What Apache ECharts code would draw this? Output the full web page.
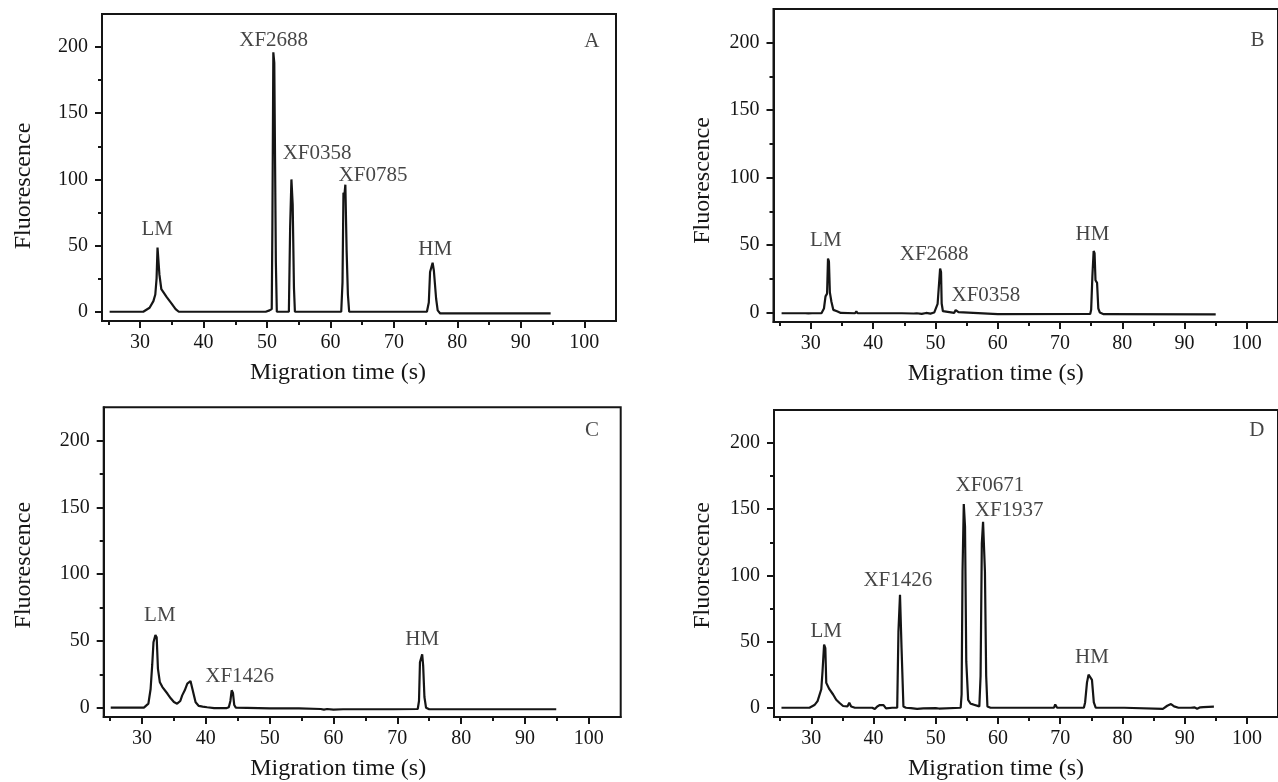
<!DOCTYPE html>
<html>
<head>
<meta charset="utf-8">
<script src="https://cdn.jsdelivr.net/npm/echarts@6/dist/echarts.min.js"></script>
<style>
html,body{margin:0;padding:0;background:#fff;}
#chart{width:1278px;height:782px;}
</style>
</head>
<body>
<div id="chart"></div>
<script>
// ---------- DATA ----------
const xTickLabels = [30, 40, 50, 60, 70, 80, 90, 100];
const xMinorTicks = [25, 35, 45, 55, 65, 75, 85, 95];
const yTickLabels = [0, 50, 100, 150, 200];
const yMinorTicks = [25, 75, 125, 175];

// Panel A
const timeA = [25.2, 30.5, 31.5, 32.1, 32.4, 32.6, 32.75, 32.9, 33.05, 33.2, 33.35, 34.2, 35.0, 35.6, 36.1, 40, 45, 49.8, 50.4, 50.75, 50.85, 51.0, 51.15, 51.4, 51.55, 51.8, 52.3, 53.45, 53.55, 53.65, 53.85, 54.05, 54.25, 54.4, 55, 61.7, 61.9, 62.05, 62.2, 62.35, 62.55, 62.75, 62.95, 70, 75.2, 75.5, 75.7, 75.9, 76.1, 76.3, 76.5, 76.65, 76.9, 77.3, 85, 94.7];
const fluorA = [0, 0, 3, 8, 13, 25, 48.5, 48, 28, 27, 17, 11, 6, 2, 0, 0, 0, 0, 1, 2, 64, 196, 188, 37, 0, -1, 0, 0, -1, 64, 100, 81, 18, 0, 0, 0, 22, 90, 88, 96, 46, 13, 0, 0, 0, 7, 30, 30, 37, 31, 32, 10, 1, -1.3, -1.3, -1.3];

// Panel B
const timeB = [25.3, 28.5, 28.8, 29.1, 29.6, 29.9, 30.2, 31.7, 32.1, 32.35, 32.6, 32.75, 32.9, 33.05, 33.3, 33.6, 34.2, 34.8, 37.1, 37.3, 37.5, 44, 44.3, 44.6, 46.5, 46.8, 47.0, 47.8, 48.5, 49.2, 49.8, 50.1, 50.35, 50.6, 50.75, 50.9, 51.0, 51.2, 51.4, 53.0, 53.25, 53.45, 53.7, 54.0, 60, 74.85, 75.0, 75.2, 75.4, 75.55, 75.7, 75.95, 76.15, 76.4, 77, 95];
const fluorB = [-0.5, -0.5, -1, -0.5, -0.6, -1.2, -0.5, -0.5, 3, 12, 14, 40, 38, 15, 8, 2, 1, -0.3, -0.5, 1, -0.5, -0.5, -1.2, -0.5, -0.7, -1.5, -0.5, -1, -0.3, -0.8, 0, 0, 6.5, 6.7, 32.6, 30, 6.7, 1, -0.3, -0.3, 1.8, 2.2, 0.3, -0.8, -1.2, -1, 2, 27, 45.6, 44, 24, 22, 3, 0, -1.2, -1.3];

// Panel C
const timeC = [25.1, 30.3, 31.0, 31.35, 31.6, 31.8, 31.95, 32.1, 32.3, 32.5, 32.8, 33.2, 33.5, 34.0, 34.5, 35.0, 35.5, 36.0, 36.3, 36.7, 37.1, 37.6, 37.9, 38.2, 38.4, 38.9, 39.5, 40.2, 40.5, 41.3, 41.6, 42.2, 42.5, 43.2, 43.6, 43.85, 44.05, 44.25, 44.45, 44.7, 50, 54, 54.3, 54.6, 58, 58.5, 59, 60, 61.5, 64.5, 64.7, 65, 69, 69.2, 69.4, 73.2, 73.4, 73.55, 73.75, 73.9, 74.05, 74.25, 74.5, 75, 94.9];
const fluorC = [0, 0, 3, 14, 32, 49, 50, 54.4, 52.7, 29, 19, 15.4, 16.6, 10.4, 7, 4.2, 3, 5, 9.2, 13, 18, 19.9, 14, 8, 4, 1.3, 0.8, 0.3, 0.8, -0.3, 0.6, -0.3, 0.5, -0.4, 0.3, 5, 13, 11, 2, 0, -0.5, -0.6, -1.3, -0.6, -1, -1.5, -1, -1.5, -1.2, -1.2, -1.8, -1.2, -1.2, -0.5, -1.2, -1, 5, 34, 34, 40, 31.5, 8, 0, -1.2, -1.2];

// Panel D
const timeD = [25.2, 29.7, 30.5, 31.0, 31.6, 31.8, 32.05, 32.25, 32.4, 32.9, 33.5, 34.0, 34.5, 35.1, 35.8, 36.1, 36.4, 37, 39.8, 40.2, 40.6, 41.0, 41.3, 41.6, 42, 43.0, 43.8, 44.0, 44.25, 44.5, 44.8, 45.2, 46, 47, 48, 50, 50.5, 54.0, 54.15, 54.3, 54.5, 54.7, 54.9, 55.2, 55.6, 56.0, 57.0, 57.2, 57.4, 57.6, 57.9, 58.1, 58.3, 58.8, 65, 69, 69.2, 69.5, 73.8, 74.0, 74.3, 74.55, 74.8, 75.1, 75.4, 75.7, 80.3, 80.5, 86.5, 87.2, 87.8, 88.3, 89, 91, 91.3, 91.6, 92, 92.5, 93, 94.7];
const fluorD = [0, 0, 2, 5, 14, 27.6, 47.7, 45, 18.8, 14, 10, 6, 3.8, 1.3, 1, 3.8, 1, 0, 0, -1, 1, 2, 0.5, 2, -0.5, 0, 0, 57.7, 85.3, 45, 1, 0, -0.3, -0.8, -0.5, -0.3, -0.6, 0, 10, 103, 154, 137, 35, 6, 3, 2.5, 1, 24, 124, 140.5, 103, 24, 1, 0, 0, 0, 2.5, 0, 0, 4, 19, 25, 26, 21, 4, 0, 0, -0.8, -0.8, 1.5, 2.8, 1, 0, 0, -1, 0.3, -0.8, 0.3, 0.5, 0.8];

// Peak annotations: [text, time, fluorescence]
const notesA = [['LM', 32.7, 62], ['XF2688', 51.05, 205], ['XF0358', 57.9, 119.5], ['XF0785', 66.7, 103], ['HM', 76.5, 46.7], ['A', 101.2, 204]];
const notesB = [['LM', 32.4, 53.6], ['XF2688', 49.8, 43.2], ['XF0358', 58.1, 12.8], ['HM', 75.2, 57.8], ['B', 101.7, 201.7]];
const notesC = [['LM', 32.8, 68.8], ['XF1426', 45.3, 23.6], ['HM', 73.9, 51.4], ['C', 100.5, 207.5]];
const notesD = [['LM', 32.4, 57.7], ['XF1426', 43.9, 96], ['XF0671', 58.7, 167.6], ['XF1937', 61.8, 148.8], ['HM', 75.1, 37.6], ['D', 101.6, 209.5]];

const xTitle = 'Migration time (s)';
const yTitle = 'Fluorescence';

// ---------- LAYOUT ----------
const FONT = '"Liberation Serif", "DejaVu Serif", serif';
const INK = '#151515';
const panels = [
  {time: timeA, fl: fluorA, notes: notesA, grid: {left: 102, top: 14, width: 514, height: 307},
   xPad: [0, 42, 0, 0], yGap: 66, yPad: [0, 37, 0, 0]},
  {time: timeB, fl: fluorB, notes: notesB, grid: {left: 773.5, top: 9, width: 516, height: 313},
   xPad: [0, 60, 0, 0], yGap: 59, yPad: [0, 30, 0, 0]},
  {time: timeC, fl: fluorC, notes: notesC, grid: {left: 103.7, top: 407.3, width: 517, height: 311},
   xPad: [0, 48, 0, 0], yGap: 68, yPad: [0, 6, 0, 0]},
  {time: timeD, fl: fluorD, notes: notesD, grid: {left: 774, top: 410, width: 515, height: 307.3},
   xPad: [0, 60, 0, 0], yGap: 59, yPad: [0, 4, 0, 0]}
];

const grids = [], xAxes = [], yAxes = [], series = [];
panels.forEach((p, i) => {
  grids.push(Object.assign({show: true, borderColor: INK, borderWidth: 2, backgroundColor: 'transparent'}, p.grid));
  xAxes.push({
    type: 'value', gridIndex: i, min: 24, max: 105, position: 'bottom',
    axisLine: {show: true, onZero: false, lineStyle: {color: INK, width: 2}},
    axisTick: {show: true, inside: false, length: 7, customValues: xTickLabels, lineStyle: {color: INK, width: 2}},
    axisLabel: {show: true, customValues: xTickLabels, margin: 12, fontFamily: FONT, fontSize: 20, color: INK},
    splitLine: {show: false},
    name: xTitle, nameLocation: 'middle', nameGap: 40,
    nameTextStyle: {fontFamily: FONT, fontSize: 24, color: INK, padding: p.xPad}
  });
  xAxes.push({
    type: 'value', gridIndex: i, min: 24, max: 105, position: 'bottom',
    axisLine: {show: false, onZero: false},
    axisTick: {show: true, inside: false, length: 4, customValues: xMinorTicks, lineStyle: {color: INK, width: 2}},
    axisLabel: {show: false}, splitLine: {show: false}
  });
  yAxes.push({
    type: 'value', gridIndex: i, min: -7, max: 225, position: 'left',
    axisLine: {show: true, onZero: false, lineStyle: {color: INK, width: 2}},
    axisTick: {show: true, inside: false, length: 7, customValues: yTickLabels, lineStyle: {color: INK, width: 2}},
    axisLabel: {show: true, customValues: yTickLabels, margin: 14, fontFamily: FONT, fontSize: 20, color: INK},
    splitLine: {show: false},
    name: yTitle, nameLocation: 'middle', nameGap: p.yGap,
    nameTextStyle: {fontFamily: FONT, fontSize: 24, color: INK, padding: p.yPad}
  });
  yAxes.push({
    type: 'value', gridIndex: i, min: -7, max: 225, position: 'left',
    axisLine: {show: false, onZero: false},
    axisTick: {show: true, inside: false, length: 4, customValues: yMinorTicks, lineStyle: {color: INK, width: 2}},
    axisLabel: {show: false}, splitLine: {show: false}
  });
  series.push({
    type: 'line', xAxisIndex: 2 * i, yAxisIndex: 2 * i,
    data: p.time.map((t, k) => [t, p.fl[k]]),
    showSymbol: false, symbol: 'none', smooth: false,
    lineStyle: {color: INK, width: 2.2}, silent: true, animation: false
  });
  series.push({
    type: 'scatter', xAxisIndex: 2 * i, yAxisIndex: 2 * i,
    symbolSize: 1, itemStyle: {color: 'rgba(0,0,0,0)'},
    data: p.notes.map(n => ({name: n[0], value: [n[1], n[2]]})),
    label: {show: true, position: 'inside', formatter: '{b}', fontFamily: FONT, fontSize: 21, color: INK},
    silent: true, animation: false
  });
});

const chart = echarts.init(document.getElementById('chart'), null, {renderer: 'canvas'});
chart.setOption({
  backgroundColor: '#ffffff',
  animation: false,
  grid: grids,
  xAxis: xAxes,
  yAxis: yAxes,
  series: series
});
</script>
</body>
</html>
